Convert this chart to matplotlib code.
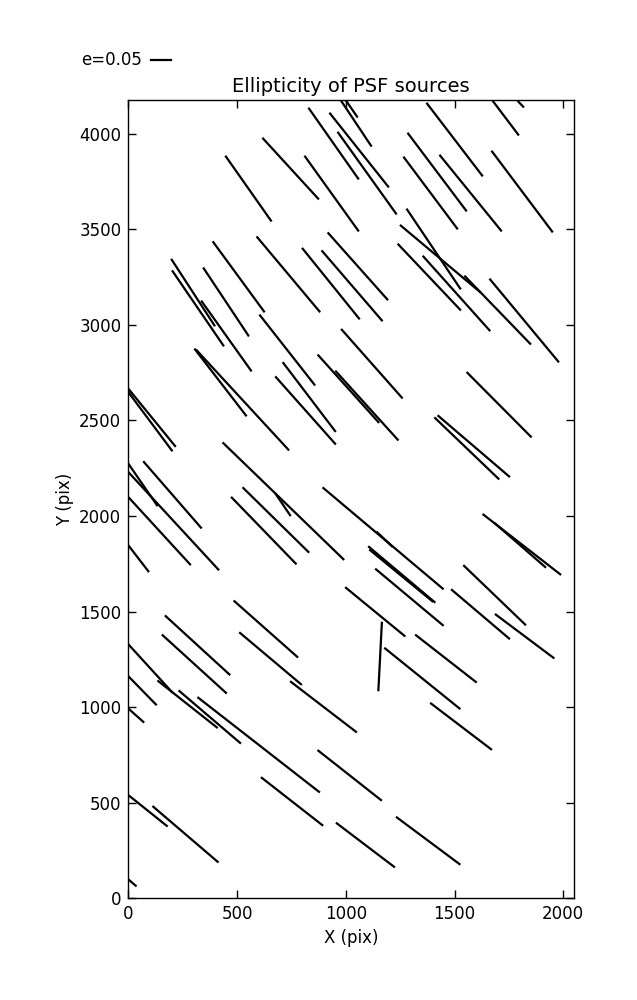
import matplotlib
matplotlib.use("Agg")
import matplotlib.pyplot as plt
from matplotlib.collections import LineCollection

# whisker end points (detector pixel coordinates)
x_start = [449, 620, 813, 831, 928, 965, 978, 1001, 1374, 1678, 1793, 1287, 1268, 1434, 1673,
           1282, 1253, 1242, 1357, 1664, 1549, 802, 892, 920, 200, 204, 347, 338, 391, 593,
           606, 307, 315, 713, 679, 874, 955, 0, 0, 982, 1559, 1411, 1426, 437, 0,
           0, 72, 0, 0, 476, 529, 679, 897, 1144, 1107, 1112, 1139, 1001, 1323,
           1181, 1166, 1392, 1633, 1687, 1544, 1488, 1690, 488, 514, 172, 158, 0, 0, 138,
           235, 322, 748, 874, 614, 959, 1235, 0, 115, 0, 0]
y_start = [3880, 3974, 3880, 4131, 4105, 4005, 4173, 4173, 4157, 4168, 4168, 4000, 3875, 3885, 3906,
           3603, 3519, 3420, 3357, 3237, 3253, 3398, 3385, 3479, 3340, 3280, 3295, 3122, 3432, 3458,
           3049, 2871, 2866, 2800, 2726, 2840, 2756, 2666, 2648, 2974, 2749, 2512, 2523, 2381, 2274,
           2230, 2282, 2099, 1847, 2096, 2146, 2113, 2146, 1915, 1838, 1821, 1721, 1624, 1376,
           1307, 1441, 1019, 2007, 1960, 1739, 1613, 1484, 1554, 1388, 1476, 1376, 1329, 1162, 1136,
           1084, 1049, 1132, 772, 630, 392, 423, 540, 479, 99, 993]
x_end = [656, 873, 1057, 1057, 1195, 1231, 1116, 1052, 1627, 1793, 1816, 1553, 1512, 1714, 1949,
         1526, 1618, 1526, 1661, 1977, 1848, 1061, 1166, 1191, 396, 437, 552, 564, 624, 879,
         856, 541, 736, 951, 951, 1150, 1239, 215, 200, 1258, 1851, 1702, 1751, 989, 132,
         414, 334, 284, 92, 770, 828, 744, 1446, 1213, 1408, 1398, 1446, 1270, 1598,
         1523, 1150, 1668, 1986, 1917, 1825, 1751, 1955, 777, 794, 465, 449, 200, 127, 407,
         514, 877, 1047, 1162, 892, 1222, 1523, 177, 411, 34, 69]
y_end = [3545, 3660, 3493, 3765, 3723, 3582, 3937, 4089, 3781, 3995, 4141, 3598, 3504, 3493, 3488,
         3190, 3171, 3079, 2971, 2808, 2901, 3033, 3023, 3133, 2997, 2892, 2944, 2761, 3070, 3070,
         2687, 2526, 2347, 2444, 2378, 2491, 2399, 2366, 2343, 2619, 2415, 2195, 2207, 1774, 2056,
         1720, 1939, 1747, 1711, 1751, 1812, 2004, 1620, 1841, 1550, 1554, 1429, 1373, 1132,
         993, 1089, 780, 1695, 1733, 1432, 1359, 1258, 1263, 1120, 1171, 1075, 1080, 1014, 894,
         813, 557, 871, 514, 383, 165, 179, 379, 191, 66, 923]

key_e = 0.05
key_scale = 1860.0   # x-pixels per unit ellipticity
key_x = 103
key_y = 4384

plt.rcParams['font.family'] = ['DejaVu Sans']
fig = plt.figure(figsize=(6.37, 10), dpi=100)
ax = fig.add_axes([0.2014, 0.1017, 0.6992, 0.7983])

segs = [[(a, b), (c, d)] for a, b, c, d in zip(x_start, y_start, x_end, y_end)]
ax.add_collection(LineCollection(segs, colors='k', linewidths=1.6, capstyle='projecting'))

ax.plot([key_x, key_x + key_e * key_scale], [key_y, key_y], color='k', lw=1.6, clip_on=False)
ax.text(key_x - 40, key_y, 'e=%.2f' % key_e, ha='right', va='center', fontsize=12)

ax.set_xlim(0, 2048)
ax.set_ylim(0, 4176)
ax.set_xticks([0, 500, 1000, 1500, 2000])
ax.set_yticks(list(range(0, 4001, 500)))
ax.tick_params(direction='in', top=True, right=True, length=5.5, width=1, labelsize=12, pad=5)
for s in ax.spines.values():
    s.set_linewidth(1.0)
ax.set_title('Ellipticity of PSF sources', fontsize=14)
ax.set_xlabel('X (pix)', fontsize=12)
ax.set_ylabel('Y (pix)', fontsize=12)

fig.savefig('out.png', dpi=100, facecolor='white')
